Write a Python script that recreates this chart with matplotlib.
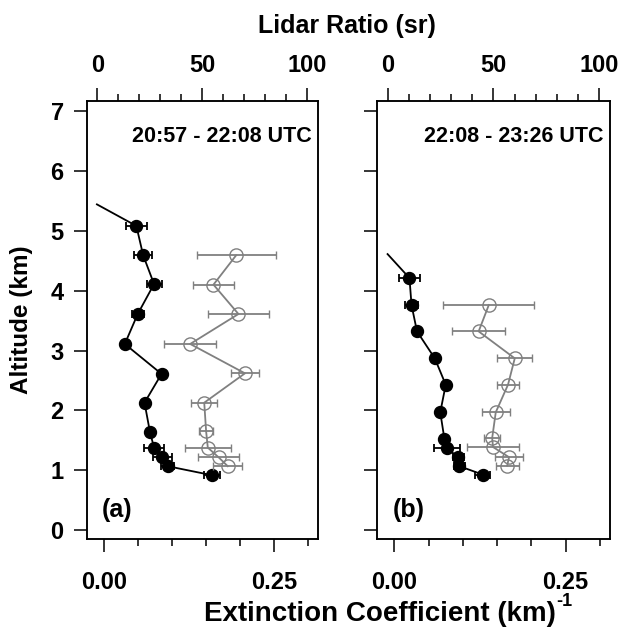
import matplotlib
matplotlib.use('Agg')
import matplotlib.pyplot as plt
from matplotlib.ticker import MultipleLocator

######Data######

# panel (a) 20:57 - 22:08 UTC
alt_ext_a = [5.44, 5.08, 4.59, 4.11, 3.61, 3.11, 2.61, 2.13, 1.64, 1.38, 1.22, 1.07, 0.92]
ext_a = [-0.010, 0.048, 0.058, 0.074, 0.050, 0.031, 0.085, 0.060, 0.068, 0.074, 0.086, 0.094, 0.159]
ext_err_a = [0.0, 0.015, 0.013, 0.011, 0.009, 0.004, 0.004, 0.004, 0.003, 0.015, 0.014, 0.010, 0.012]

alt_lr_a = [4.59, 4.10, 3.61, 3.11, 2.62, 2.13, 1.65, 1.38, 1.22, 1.07]
lr_a = [66.2, 55.4, 67.3, 44.3, 70.4, 51.0, 51.9, 52.7, 57.8, 62.2]
lr_err_a = [18.8, 9.8, 14.4, 12.4, 6.7, 6.3, 3.5, 11.1, 9.9, 7.0]

# panel (b) 22:08 - 23:26 UTC
alt_ext_b = [4.61, 4.21, 3.76, 3.32, 2.87, 2.43, 1.97, 1.53, 1.37, 1.22, 1.07, 0.93]
ext_b = [-0.010, 0.022, 0.025, 0.033, 0.059, 0.075, 0.067, 0.073, 0.077, 0.093, 0.095, 0.129]
ext_err_b = [0.0, 0.015, 0.010, 0.004, 0.003, 0.003, 0.003, 0.003, 0.019, 0.008, 0.008, 0.011]

alt_lr_b = [3.76, 3.32, 2.87, 2.43, 1.97, 1.54, 1.39, 1.22, 1.08]
lr_b = [47.8, 43.0, 60.1, 56.9, 51.1, 49.4, 49.8, 57.4, 56.5]
lr_err_b = [21.6, 12.4, 8.3, 5.4, 6.7, 3.7, 12.1, 6.7, 5.4]

panel_tags = ['(a)', '(b)']
time_labels = ['20:57 - 22:08 UTC', '22:08 - 23:26 UTC']

######Style######

plt.rcParams['font.family'] = ['Liberation Sans', 'DejaVu Sans']
plt.rcParams['font.weight'] = 'bold'

W, H = 621, 631
fig = plt.figure(figsize=(W / 100, H / 100), dpi=100)

# axes boxes in pixels (left, right), shared top/bottom
boxes = [(86.7, 318.0), (377.3, 610.0)]
top_px, bot_px = 100.7, 539.3

gray = '#808080'
panels = [
    (alt_ext_a, ext_a, ext_err_a, alt_lr_a, lr_a, lr_err_a),
    (alt_ext_b, ext_b, ext_err_b, alt_lr_b, lr_b, lr_err_b),
]

for i, (l, r) in enumerate(boxes):
    ax = fig.add_axes([l / W, 1 - bot_px / H, (r - l) / W, (bot_px - top_px) / H])
    alt_e, ext, ext_err, alt_l, lr, lr_err = panels[i]

    # extinction: black filled circles
    ax.plot(ext, alt_e, color='black', lw=1.3, zorder=3)
    ax.errorbar(ext[1:], alt_e[1:], xerr=ext_err[1:], fmt='o', color='black',
                ms=8.6, elinewidth=1.3, capsize=3.0, capthick=1.3, zorder=4)

    ax.set_xlim(-0.025, 0.315)
    ax.set_ylim(-0.15, 7.17)
    ax.xaxis.set_major_locator(MultipleLocator(0.25))
    ax.xaxis.set_minor_locator(MultipleLocator(0.05))
    ax.xaxis.set_major_formatter(plt.FormatStrFormatter('%.2f'))
    ax.yaxis.set_major_locator(MultipleLocator(1))
    ax.tick_params(axis='both', which='major', direction='out', length=9.6, width=1.1,
                   labelsize=17)
    ax.tick_params(axis='x', which='minor', direction='out', length=5, width=1.1)
    ax.tick_params(axis='x', pad=13.5)
    ax.tick_params(axis='y', pad=7)
    if i == 1:
        ax.tick_params(axis='y', labelleft=False)
    for s in ax.spines.values():
        s.set_linewidth(1.1)

    # lidar ratio on the top axis: gray open circles
    ax2 = ax.twiny()
    ax2.errorbar(lr, alt_l, xerr=lr_err, fmt='-o', color=gray, mfc='none', mec=gray,
                 ms=9.5, mew=1.0, lw=1.3, elinewidth=1.3, capsize=3.0, capthick=1.3,
                 zorder=2)
    ax2.set_xlim(-5, 105.2)
    ax2.xaxis.set_major_locator(MultipleLocator(50))
    ax2.xaxis.set_minor_locator(MultipleLocator(10))
    ax2.tick_params(axis='x', which='major', direction='out', length=9.6, width=1.1,
                    labelsize=17, pad=7.5)
    ax2.tick_params(axis='x', which='minor', direction='out', length=5, width=1.1)
    for s in ax2.spines.values():
        s.set_linewidth(1.1)

    ax.text(0.972, 0.918, time_labels[i], transform=ax.transAxes, ha='right',
            va='center', fontsize=15.5, fontweight='bold')
    ax.text(0.065, 0.067, panel_tags[i], transform=ax.transAxes, ha='left',
            va='center', fontsize=18, fontweight='bold')

fig.text(346.7 / W, 1 - 32.7 / H, 'Lidar Ratio (sr)', ha='center', va='baseline',
         fontsize=18, fontweight='bold')
xlab = fig.text(380 / W, 1 - 621 / H, 'Extinction Coefficient (km)', ha='center',
                va='baseline', fontsize=20, fontweight='bold')
# superscript -1 placed just after the closing parenthesis
fig.canvas.draw()
bb = xlab.get_window_extent(fig.canvas.get_renderer())
fig.text((bb.x1 + 0.5) / W, (1 - 621 / H) + 15 / H, '-1', ha='left', va='baseline',
         fontsize=13, fontweight='bold')
fig.text(22 / W, 1 - 320 / H, 'Altitude (km)', ha='center', va='center',
         rotation=90, fontsize=17.5, fontweight='bold')

fig.savefig('out.png', dpi=100)
